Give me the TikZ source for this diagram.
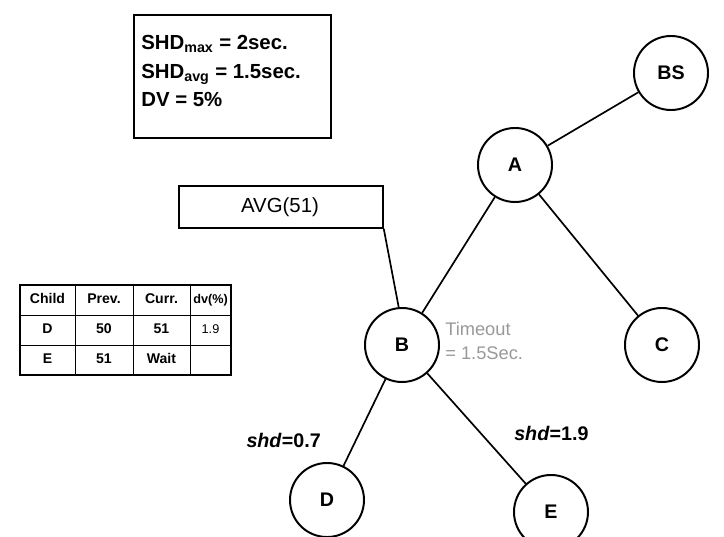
\documentclass[tikz,border=0pt]{standalone}
\usepackage{fontspec}
\setmainfont{Liberation Sans}
\begin{document}
\begin{tikzpicture}[x=0.025cm,y=-0.025cm,
  tnode/.style={circle,draw,line width=1.4pt,minimum size=1.85cm,inner sep=0pt,font=\fontsize{14}{16}\selectfont\bfseries},
  edge/.style={line width=1.2pt},
  cell/.style={font=\fontsize{10}{12}\selectfont\bfseries,inner sep=0pt,text height=7.5pt,text depth=2pt},
  lbl/.style={font=\fontsize{14}{16}\selectfont\bfseries,inner sep=0pt}]
\useasboundingbox (0,0) rectangle (724,537);
% info box
\node[draw,line width=1.4pt,minimum width=4.925cm,minimum height=3.075cm,anchor=north west] (info) at (133,14) {};
\node[anchor=west,align=left,font=\fontsize{14.5}{20.5}\selectfont\bfseries,inner sep=0pt] (infotxt) at (141,71)
 {SHD\textsubscript{max} = 2sec.\\ SHD\textsubscript{avg} = 1.5sec.\\ DV = 5\%};
% tree nodes
\node[tnode] (BS) at (671,73) {BS};
\node[tnode] (A) at (515,165) {A};
\node[tnode] (B) at (402,345) {B};
\node[tnode] (C) at (662,345) {C};
\node[tnode] (D) at (327,500) {D};
\node[tnode] (E) at (551,512) {E};
\draw[edge] (BS) -- (A);
\draw[edge] (A) -- (B);
\draw[edge] (A) -- (C);
\draw[edge] (B) -- (D);
\draw[edge] (B) -- (E);
% AVG box
\node[draw,line width=1.2pt,minimum width=5.1cm,minimum height=1.05cm,anchor=north west,inner sep=0pt] (avg) at (178,185) {};
\node[font=\fontsize{14.5}{16}\selectfont,inner sep=0pt] (avgtxt) at (280,207) {AVG(51)};
\draw[edge] (avg.south east) -- (B.95);
% timeout
\node[anchor=west,align=left,text=gray!80,font=\fontsize{13}{16.5}\selectfont,inner sep=0pt] (timeout) at (445,341) {Timeout\\= 1.5Sec.};
% shd labels
\node[lbl,anchor=east] (shdD) at (321,440) {\textit{shd}=0.7};
\node[lbl,anchor=west] (shdE) at (514,433) {\textit{shd}=1.9};
% table
\draw[line width=0.7pt] (20,315) -- (231,315) (20,345) -- (231,345);
\draw[line width=0.7pt] (75,285) -- (75,375) (133,285) -- (133,375) (190,285) -- (190,375);
\draw[line width=1.8pt] (20,285) rectangle (231,375);
\node[cell] (h1) at (47.5,300) {Child};
\node[cell] (h2) at (104,300) {Prev.};
\node[cell] (h3) at (161.5,300) {Curr.};
\node[cell,font=\fontsize{9}{10}\selectfont\bfseries] (h4) at (210.5,300) {dv(\%)};
\node[cell] (d1) at (47.5,330) {D};
\node[cell] (d2) at (104,330) {50};
\node[cell] (d3) at (161.5,330) {51};
\node[cell,font=\fontsize{9}{10}\selectfont] (d4) at (210.5,330) {1.9};
\node[cell] (e1) at (47.5,360) {E};
\node[cell] (e2) at (104,360) {51};
\node[cell] (e3) at (161.5,360) {Wait};
\end{tikzpicture}
\end{document}
